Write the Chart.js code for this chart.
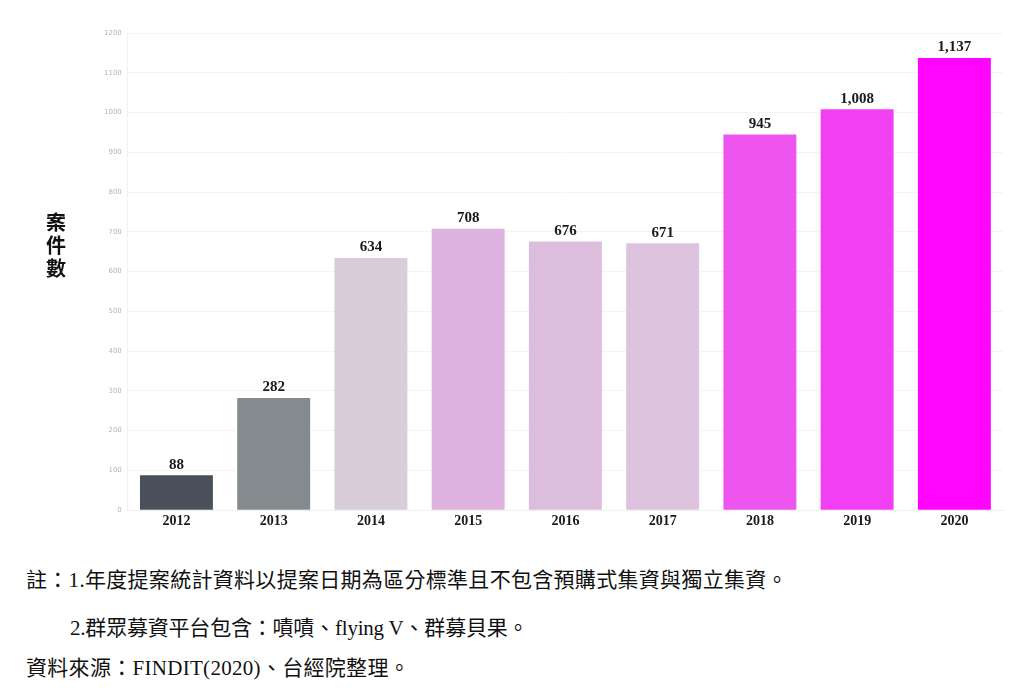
<!DOCTYPE html>
<html lang="zh-Hant">
<head>
<meta charset="utf-8">
<script src="https://cdn.jsdelivr.net/npm/chart.js@4.4.0/dist/chart.umd.min.js"></script>
<style>
  html, body { margin: 0; padding: 0; background: #fff; }
  #wrap { position: relative; width: 1024px; height: 692px; overflow: hidden; }
  #chart-box { position: absolute; left: 0; top: 0; width: 1024px; height: 540px; }
  #y-title { position: absolute; left: 44px; top: 210px; width: 24px; font: bold 20px "Noto Sans CJK TC", sans-serif; line-height: 23px; color: #111; text-align: center; }
  .nota { position: absolute; font: 21px "Liberation Serif", "Noto Sans CJK TC", serif; line-height: 24px; letter-spacing: 0.3px; color: #111; white-space: nowrap; }
</style>
</head>
<body>
<div id="wrap">
  <div id="chart-box"><canvas id="chartCasos"></canvas></div>
  <div id="y-title">案<br>件<br>數</div>
  <div class="nota" style="left:26px; top:568px;">註：1.年度提案統計資料以提案日期為區分標準且不包含預購式集資與獨立集資。</div>
  <div class="nota" style="left:70px; top:616px; letter-spacing: -0.2px;">2.群眾募資平台包含：嘖嘖、flying V、群募貝果。</div>
  <div class="nota" style="left:26px; top:656px;">資料來源：FINDIT(2020)、台經院整理。</div>
</div>
<script>
// dados do gráfico
const anos = ['2012', '2013', '2014', '2015', '2016', '2017', '2018', '2019', '2020'];
const casos = [88, 282, 634, 708, 676, 671, 945, 1008, 1137];
const coresBarras = ['#4a505c', '#848b8e', '#d9cdd9', '#deb3e0', '#ddbddd', '#ddc3dd', '#ee55ee', '#f33ff3', '#ff05ff'];
const ticksY = [0, 100, 200, 300, 400, 500, 600, 700, 800, 900, 1000, 1100, 1200];

const formatarNumero = (v) => v.toLocaleString('en-US');

// rótulos em cima das barras
const rotulosBarras = {
    id: 'rotulosBarras',
    afterDatasetsDraw(chart) {
        const ctx = chart.ctx;
        const meta = chart.getDatasetMeta(0);
        ctx.save();
        ctx.font = 'bold 15px "Liberation Serif", serif';
        ctx.fillStyle = '#1a1a1a';
        ctx.textAlign = 'center';
        ctx.textBaseline = 'bottom';
        meta.data.forEach((bar, i) => {
            ctx.fillText(formatarNumero(casos[i]), bar.x, bar.y - 3);
        });
        ctx.restore();
    }
};

new Chart('chartCasos', {
    type: 'bar',
    data: {
        labels: anos,
        datasets: [{
            data: casos,
            backgroundColor: coresBarras,
            barPercentage: 0.75,
            categoryPercentage: 1
        }]
    },
    options: {
        responsive: true,
        maintainAspectRatio: false,
        animation: false,
        layout: { padding: { left: 98, right: 21, top: 33, bottom: 15 } },
        plugins: { legend: { display: false }, tooltip: { enabled: false } },
        scales: {
            x: {
                grid: { display: false },
                border: { color: '#f0f0f0' },
                ticks: { color: '#1a1a1a', font: { family: '"Liberation Serif", serif', size: 14, weight: 'bold' }, padding: -5 }
            },
            y: {
                min: 0,
                max: 1200,
                afterBuildTicks: (axis) => { axis.ticks = ticksY.map(v => ({ value: v })); },
                grid: { color: '#f4f4f4', drawTicks: false },
                border: { color: '#f0f0f0' },
                ticks: { color: '#b5b5b5', font: { family: '"DejaVu Sans", sans-serif', size: 7 }, padding: 6, callback: (v) => String(v) }
            }
        }
    },
    plugins: [rotulosBarras]
});
</script>
</body>
</html>
